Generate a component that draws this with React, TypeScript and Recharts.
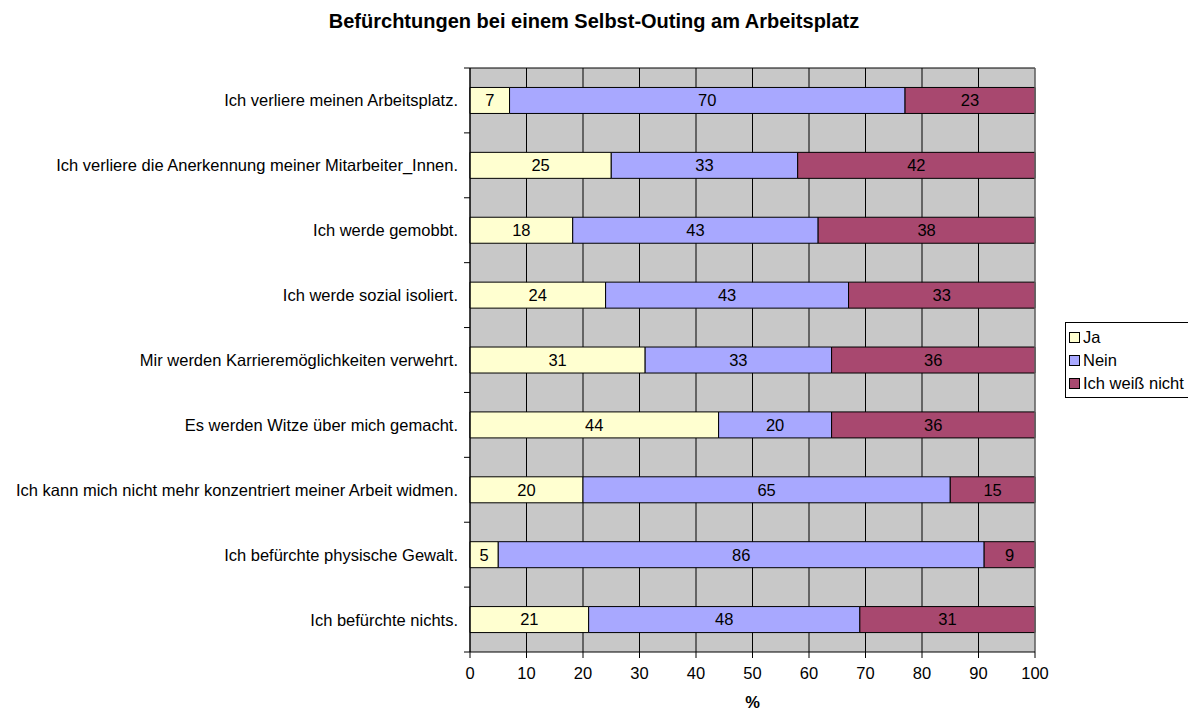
import { BarChart, Bar, XAxis, YAxis, CartesianGrid, LabelList, ReferenceLine } from "recharts"

const categories = [
  "Ich verliere meinen Arbeitsplatz.",
  "Ich verliere die Anerkennung meiner Mitarbeiter_Innen.",
  "Ich werde gemobbt.",
  "Ich werde sozial isoliert.",
  "Mir werden Karrieremöglichkeiten verwehrt.",
  "Es werden Witze über mich gemacht.",
  "Ich kann mich nicht mehr konzentriert meiner Arbeit widmen.",
  "Ich befürchte physische Gewalt.",
  "Ich befürchte nichts.",
]
const ja = [7, 25, 18, 24, 31, 44, 20, 5, 21]
const nein = [70, 33, 43, 43, 33, 20, 65, 86, 48]
const weissNicht = [23, 42, 38, 33, 36, 36, 15, 9, 31]
const xTicks = [0, 0.1, 0.2, 0.3, 0.4, 0.5, 0.6, 0.7, 0.8, 0.9, 1]

const data = categories.map((name, i) => ({ name, ja: ja[i], nein: nein[i], weiss: weissNicht[i] }))

const W = 1188
const H = 711
const M = { top: 68, right: 153, left: 0, bottom: 29 }
const YW = 470
const XH = 30
const plotH = H - M.top - M.bottom - XH
const band = plotH / categories.length
const font = "Arial, 'Liberation Sans', sans-serif"
const FS = 16.5

const series = [
  { key: "ja", name: "Ja", color: "#FFFFD0" },
  { key: "nein", name: "Nein", color: "#A8A8FF" },
  { key: "weiss", name: "Ich weiß nicht", color: "#A8486F" },
]

function CatTick(props: any) {
  const { y, payload, index } = props
  return (
    <g>
      <text x={YW - 12} y={y} dy={6} textAnchor="end" fontSize={FS} fill="#000" fontFamily={font}>
        {payload.value}
      </text>
      <line x1={YW - 6} x2={YW} y1={y - band / 2} y2={y - band / 2} stroke="#000" />
      {index === categories.length - 1 && (
        <line x1={YW - 6} x2={YW} y1={y + band / 2} y2={y + band / 2} stroke="#000" />
      )}
    </g>
  )
}

function LegendBox() {
  return (
    <div
      style={{
        position: "absolute",
        left: 1065,
        top: 322,
        width: 124,
        height: 76,
        border: "1px solid #000",
        background: "#fff",
        padding: "3px 0 0 3px",
        fontFamily: font,
        fontSize: FS,
        boxSizing: "border-box",
      }}
    >
      {series.map((s) => (
        <div key={s.key} style={{ display: "flex", alignItems: "center", height: 23 }}>
          <span
            style={{
              display: "inline-block",
              width: 9,
              height: 9,
              background: s.color,
              border: "1.5px solid #000",
              marginRight: 3,
            }}
          />
          <span style={{ whiteSpace: "nowrap" }}>{s.name}</span>
        </div>
      ))}
    </div>
  )
}

export default function App() {
  return (
    <div style={{ position: "absolute", left: 0, top: 0, width: W, height: H, background: "#fff" }}>
      <div
        style={{
          position: "absolute",
          top: 10,
          left: 0,
          width: W,
          textAlign: "center",
          fontFamily: font,
          fontWeight: "bold",
          fontSize: 20,
        }}
      >
        Befürchtungen bei einem Selbst-Outing am Arbeitsplatz
      </div>
      <BarChart
        width={W}
        height={H}
        data={data}
        layout="vertical"
        stackOffset="expand"
        barCategoryGap="30%"
        margin={M}
      >
        <CartesianGrid
          fill="#C8C8C8"
          stroke="#000"
          horizontal={true}
          horizontalCoordinatesGenerator={({ offset }: any) => [offset.top]}
          vertical={true}
        />
        <ReferenceLine x={1} stroke="#8a8a8a" />
        <XAxis
          type="number"
          domain={[0, 1]}
          ticks={xTicks}
          tickFormatter={(v: number) => `${Math.round(v * 100)}`}
          height={XH}
          tickSize={6}
          tickMargin={9}
          axisLine={{ stroke: "#000" }}
          tickLine={{ stroke: "#000" }}
          tick={{ fontSize: FS, fill: "#000", fontFamily: font }}
          label={{
            value: "%",
            position: "insideBottom",
            offset: -26,
            fontSize: FS,
            fontWeight: "bold",
            fill: "#000",
            fontFamily: font,
          }}
        />
        <YAxis
          type="category"
          dataKey="name"
          width={YW}
          interval={0}
          tickLine={false}
          axisLine={{ stroke: "#000" }}
          tick={<CatTick />}
        />
        {series.map((s) => (
          <Bar
            key={s.key}
            dataKey={s.key}
            name={s.name}
            stackId="a"
            fill={s.color}
            stroke="#000"
            strokeWidth={1}
            isAnimationActive={false}
          >
            <LabelList dataKey={s.key} position="center" fontSize={FS} fill="#000" fontFamily={font} />
          </Bar>
        ))}
      </BarChart>
      <LegendBox />
    </div>
  )
}
